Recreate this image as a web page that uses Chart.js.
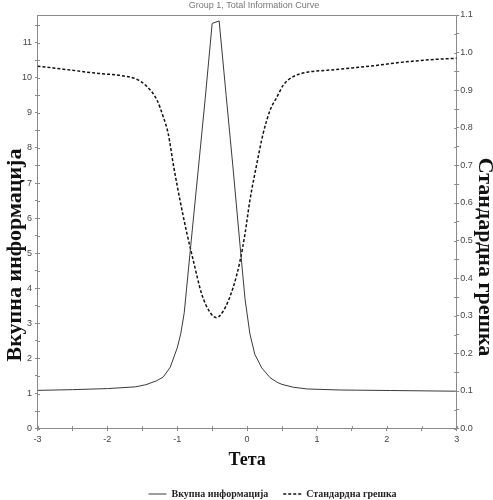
<!DOCTYPE html>
<html><head><meta charset="utf-8">
<script src="https://cdn.jsdelivr.net/npm/chart.js@4/dist/chart.umd.min.js"></script>
<style>html,body{margin:0;padding:0;background:#fff}#wrap{width:493px;height:500px}</style>
</head><body><div id="wrap"><canvas id="c" width="493" height="500"></canvas></div>
<script>
const chartTitle = 'Group 1, Total Information Curve';
const xAxisTitle = 'Тета';
const yLeftTitle = 'Вкупна информација';
const yRightTitle = 'Стандардна грешка';
const seriesNames = ['Вкупна информација', 'Стандардна грешка'];

const infoTheta  = [-3, -2.5, -2, -1.6, -1.45, -1.3, -1.2, -1.1, -1.0, -0.95, -0.9, -0.8, -0.7, -0.6, -0.5, -0.4, -0.3, -0.2, -0.1, -0.03, 0.04, 0.11, 0.21, 0.33, 0.43, 0.5, 0.66, 0.86, 1.33, 2.05, 3.0];
const infoValues = [1.09, 1.11, 1.14, 1.19, 1.25, 1.36, 1.47, 1.75, 2.3, 2.7, 3.3, 5.35, 7.37, 9.4, 11.55, 11.62, 9.5, 7.4, 5.2, 3.7, 2.7, 2.12, 1.73, 1.45, 1.32, 1.26, 1.18, 1.13, 1.10, 1.086, 1.066];

const seTheta  = [-3, -2.63, -2.15, -1.77, -1.58, -1.44, -1.29, -1.2, -1.13, -1.05, -0.96, -0.86, -0.77, -0.65, -0.53, -0.44, -0.34, -0.2, -0.1, -0.03, 0.04, 0.14, 0.23, 0.33, 0.43, 0.52, 0.66, 0.86, 1.15, 1.5, 1.85, 2.15, 2.62, 3.0];
const seValues = [0.964, 0.956, 0.945, 0.938, 0.929, 0.911, 0.874, 0.829, 0.785, 0.696, 0.607, 0.518, 0.447, 0.358, 0.309, 0.295, 0.313, 0.375, 0.447, 0.518, 0.607, 0.705, 0.785, 0.847, 0.883, 0.914, 0.936, 0.948, 0.953, 0.959, 0.966, 0.973, 0.981, 0.985];

const xMin = -3, xMax = 3, xStep = 0.5;
const yLeftMax = 11.79, yLeftStep = 0.5;
const yRightMax = 1.1, yRightStep = 0.05;

const pts = (xs, ys) => xs.map((x, i) => ({x, y: ys[i]}));

const AXIS = '#8a8a8a';
const TICKFONT = {family: '"Liberation Sans", Arial, sans-serif', size: 9};
const SERIF = '"Liberation Serif", "Times New Roman", serif';

const framePlugin = {
  id: 'frame',
  afterLayout(chart) {
    if (chart.legend) { chart.legend.left += 52; }
  },
  afterDraw(chart) {
    const {ctx, chartArea: a} = chart;
    ctx.save();
    ctx.strokeStyle = AXIS;
    ctx.lineWidth = 1;
    ctx.beginPath();
    ctx.moveTo(a.left, a.top + 0.5); ctx.lineTo(a.right, a.top + 0.5);
    ctx.stroke();
    const inner = 2.5;
    ctx.beginPath();
    const xs = chart.scales.x;
    xs.ticks.forEach((t, i) => { const p = Math.round(xs.getPixelForTick(i)) + 0.5; ctx.moveTo(p, a.bottom); ctx.lineTo(p, a.bottom - inner); });
    const yl = chart.scales.y;
    yl.ticks.forEach((t, i) => { const p = Math.round(yl.getPixelForTick(i)) + 0.5; ctx.moveTo(a.left, p); ctx.lineTo(a.left + inner, p); });
    const yr = chart.scales.y2;
    yr.ticks.forEach((t, i) => { const p = Math.round(yr.getPixelForTick(i)) + 0.5; ctx.moveTo(a.right, p); ctx.lineTo(a.right - inner, p); });
    ctx.stroke();

    ctx.fillStyle = '#777';
    ctx.font = '9px "Liberation Sans", Arial, sans-serif';
    ctx.textAlign = 'center';
    ctx.textBaseline = 'alphabetic';
    ctx.fillText(chartTitle, 254, 7.5);

    ctx.fillStyle = '#111';
    ctx.font = 'bold 22px ' + SERIF;
    ctx.textBaseline = 'middle';
    ctx.save();
    ctx.translate(15, 255);
    ctx.rotate(-Math.PI / 2);
    ctx.fillText(yLeftTitle, 0, 0);
    ctx.restore();
    ctx.save();
    ctx.translate(484.5, 257);
    ctx.rotate(Math.PI / 2);
    ctx.fillText(yRightTitle, 0, 0);
    ctx.restore();
    ctx.restore();
  }
};

new Chart(document.getElementById('c'), {
  type: 'scatter',
  data: {
    datasets: [
      {
        label: seriesNames[0],
        data: pts(infoTheta, infoValues),
        yAxisID: 'y',
        showLine: true,
        borderColor: '#3a3a3a',
        backgroundColor: '#3a3a3a',
        borderWidth: 1,
        pointRadius: 0,
        tension: 0
      },
      {
        label: seriesNames[1],
        data: pts(seTheta, seValues),
        yAxisID: 'y2',
        showLine: true,
        borderColor: '#111',
        backgroundColor: '#111',
        borderWidth: 1.5,
        borderDash: [3, 2],
        pointRadius: 0,
        cubicInterpolationMode: 'monotone'
      }
    ]
  },
  options: {
    responsive: false,
    animation: false,
    devicePixelRatio: 1,
    layout: {padding: {left: 0, right: 0, top: 15, bottom: -9}},
    plugins: {
      title: {display: false},
      tooltip: {enabled: false},
      legend: {
        position: 'bottom',
        labels: {
          usePointStyle: true,
          pointStyle: 'line',
          pointStyleWidth: 18,
          boxWidth: 18,
          padding: 15,
          color: '#222',
          font: {family: SERIF, size: 10, weight: 'bold'},
          generateLabels: chart => Chart.defaults.plugins.legend.labels.generateLabels(chart).map(item => {
            const ds = chart.data.datasets[item.datasetIndex];
            item.lineDash = ds.borderDash || [];
            item.lineWidth = ds.borderWidth;
            item.strokeStyle = ds.borderColor;
            item.pointStyle = 'line';
            return item;
          })
        }
      }
    },
    scales: {
      x: {
        type: 'linear',
        min: xMin, max: xMax,
        afterFit: s => { s.height = 45.4; },
        border: {color: AXIS, width: 1},
        grid: {drawOnChartArea: false, tickLength: 2.5, color: AXIS},
        ticks: {
          stepSize: xStep,
          autoSkip: false,
          maxRotation: 0,
          padding: 3,
          color: '#444',
          font: TICKFONT,
          callback: v => (Math.abs(v - Math.round(v)) < 1e-9 ? String(Math.round(v)) : '')
        },
        title: {display: true, text: xAxisTitle, color: '#111', font: {family: SERIF, size: 18, weight: 'bold', lineHeight: 1.2}, padding: {top: 0, bottom: 3}}
      },
      y: {
        position: 'left',
        min: 0, max: yLeftMax,
        afterFit: s => { s.width = 37.5; },
        border: {color: AXIS, width: 1},
        grid: {drawOnChartArea: false, tickLength: 2.5, color: AXIS},
        ticks: {
          stepSize: yLeftStep,
          includeBounds: false,
          autoSkip: false,
          padding: 3,
          color: '#444',
          font: TICKFONT,
          callback: v => (Math.abs(v - Math.round(v)) < 1e-9 ? String(Math.round(v)) : '')
        },
        title: {display: false}
      },
      y2: {
        position: 'right',
        min: 0, max: yRightMax,
        afterFit: s => { s.width = 36.3; },
        border: {color: AXIS, width: 1},
        grid: {drawOnChartArea: false, tickLength: 2.5, color: AXIS},
        ticks: {
          stepSize: yRightStep,
          includeBounds: false,
          autoSkip: false,
          padding: 1,
          color: '#444',
          font: TICKFONT,
          callback: v => { const r = Math.round(v * 10); return Math.abs(v * 10 - r) < 1e-6 ? (r / 10).toFixed(1) : ''; }
        },
        title: {display: false}
      }
    }
  },
  plugins: [framePlugin]
});
</script>
</body></html>
